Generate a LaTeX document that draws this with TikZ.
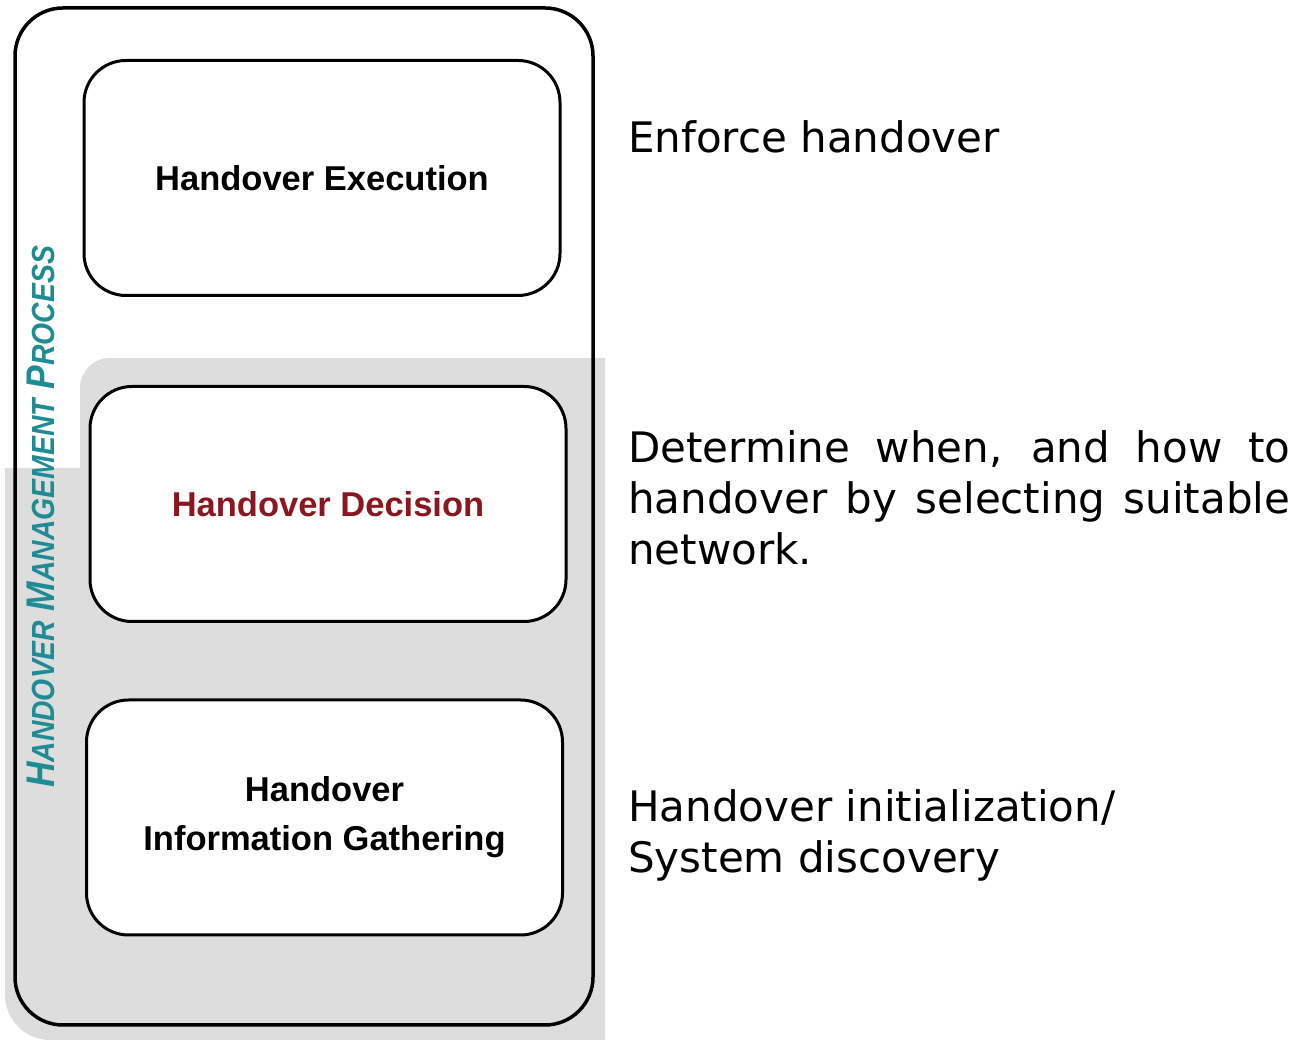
\documentclass[tikz,border=0pt]{standalone}
\usepackage{fontspec}
\usepackage{graphicx}
\setmainfont{Liberation Sans}
\newfontfamily\notefont{DejaVu Sans}
\definecolor{panelgray}{RGB}{221,221,221}
\definecolor{titleteal}{RGB}{30,140,148}
\definecolor{decisionred}{RGB}{140,22,32}
% small-caps word: large initial, smaller remaining capitals
\newcommand\capword[2]{{\fontsize{40}{40}\selectfont #1}{\fontsize{32}{32}\selectfont #2}}

\begin{document}
\begin{tikzpicture}[x=1pt,y=1pt,
  stage/.style={draw=black, line width=3pt, fill=white, rounded corners=42pt,
    minimum width=476pt, minimum height=235pt, inner sep=0pt, align=center,
    font=\fontsize{34.5}{49}\selectfont\bfseries},
  note/.style={anchor=base west, inner sep=0pt, font=\notefont\fontsize{42}{51}\selectfont},
]
\useasboundingbox (0,0) rectangle (1297,1040);

% grey band behind the lower two stages
\fill[panelgray] (80,572) -- (80,652) arc[start angle=180,end angle=90,radius=30]
  -- (605,682) -- (605,0) -- (50,0) arc[start angle=270,end angle=180,radius=45]
  -- (5,572) -- cycle;

% enclosing process frame
\node[draw, line width=3.5pt, rounded corners=48pt, minimum width=578pt,
  minimum height=1017pt, inner sep=0pt] (frame) at (304,523.5) {};

% the three stages
\node[stage] (exec) at (322,862) {Handover Execution};
\node[stage, text=decisionred] (decide) at (328,536) {Handover Decision};
\node[stage] (gather) at (324.5,222.5) {Handover\\Information Gathering};

% vertical title, condensed along its length
\node[rotate=90, text=titleteal, font=\bfseries\itshape, inner sep=0pt] (title) at (41,523)
  {\scalebox{0.885}[1]{\capword{H}{ANDOVER}\hspace{11pt}\capword{M}{ANAGEMENT}\hspace{11pt}\capword{P}{ROCESS}}};

% descriptions
\node[note] (execnote) at (628,887) {Enforce handover};
\node[note] (decnoteA) at (628,577) {\makebox[662pt][s]{Determine when, and how to}};
\node[note] (decnoteB) at (628,526) {\makebox[662pt][s]{handover by selecting suitable}};
\node[note] (decnoteC) at (628,475) {network.};
\node[note] (gathnoteA) at (628,218) {Handover initialization/};
\node[note] (gathnoteB) at (628,167) {System discovery};
\end{tikzpicture}
\end{document}
